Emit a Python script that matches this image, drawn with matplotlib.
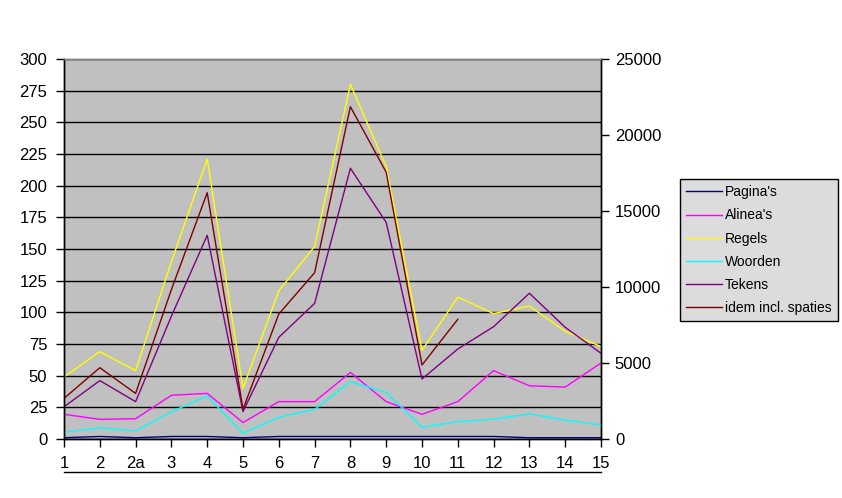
import matplotlib
matplotlib.use("Agg")
from matplotlib import pyplot as plt
import numpy as np

plt.rcParams["font.family"] = ["Liberation Sans", "DejaVu Sans"]

categories = ["1", "2", "2a", "3", "4", "5", "6", "7", "8", "9", "10", "11", "12", "13", "14", "15"]

# left axis series
paginas = [1, 2, 1, 2, 2, 1, 2, 2, 2, 2, 2, 2, 2, 1, 1, 1]
alineas = [19.5, 15.5, 16, 34.5, 36, 13, 29.5, 29.5, 52.5, 29.5, 19.5, 29.5, 54, 42, 41, 60]
regels = [49, 69, 54, 140, 221, 40, 117, 152, 280, 215, 70, 112, 99, 105, 85, 73]

# right axis series
woorden = [440, 745, 525, 1800, 2830, 375, 1430, 1950, 3770, 3070, 770, 1140, 1300, 1650, 1250, 920]
tekens = [2120, 3840, 2460, 8080, 13400, 1800, 6690, 8920, 17810, 14250, 3950, 5920, 7390, 9590, 7350, 5640]
incl_spaties = [2670, 4690, 3000, 9830, 16200, 1960, 8220, 10940, 21860, 17550, 4870, 7875,
                np.nan, np.nan, np.nan, np.nan]

x = np.arange(len(categories))

fig = plt.figure(figsize=(8.42, 4.98), dpi=100, facecolor="white")
ax = fig.add_axes([64 / 842, 59 / 498, 537 / 842, 380 / 498])
ax2 = ax.twinx()

ax.set_facecolor("#c0c0c0")
ax.set_zorder(0)
ax2.set_zorder(1)
ax2.patch.set_visible(False)

lw = 1.0
l1, = ax.plot(x, paginas, color="#000080", lw=lw, label="Pagina's")
l2, = ax.plot(x, alineas, color="#ff00ff", lw=lw, label="Alinea's")
l3, = ax.plot(x, regels, color="#ffff00", lw=lw, label="Regels")
l4, = ax2.plot(x, woorden, color="#00ffff", lw=lw, label="Woorden")
l5, = ax2.plot(x, tekens, color="#800080", lw=lw, label="Tekens")
l6, = ax2.plot(x, incl_spaties, color="#800000", lw=lw, label="idem incl. spaties")

ax.set_xlim(0, len(categories) - 1)
ax.set_ylim(0, 300)
ax2.set_ylim(0, 25000)
ax.set_yticks(np.arange(0, 301, 25))
ax2.set_yticks(np.arange(0, 25001, 5000))
ax.set_xticks(x)
ax.set_xticklabels(categories)

ax.yaxis.grid(True, color="black", lw=1)
ax.set_axisbelow(True)

for a in (ax, ax2):
    for s in a.spines.values():
        s.set_color("black")
        s.set_linewidth(1)
    a.spines["top"].set_color("#808080")

ax.tick_params(axis="y", direction="out", length=6, width=1, labelsize=12, pad=6)
ax.tick_params(axis="x", direction="out", length=6, width=1, labelsize=12, pad=6)
ax2.tick_params(axis="y", direction="out", length=6, width=1, labelsize=12, pad=4)

# line under the category labels
ax.plot([0, 1], [-0.087, -0.087], transform=ax.transAxes, color="black", lw=1, clip_on=False)

leg = fig.legend(handles=[l1, l2, l3, l4, l5, l6], loc="upper left",
                 bbox_to_anchor=(680 / 842, (498 - 179) / 498), borderaxespad=0,
                 fontsize=10, frameon=True, fancybox=False, framealpha=1,
                 edgecolor="black", facecolor="#dcdcdc", handlelength=2.6,
                 handletextpad=0.2, labelspacing=0.66, borderpad=0.45)
leg.get_frame().set_linewidth(1)

fig.savefig("out.png", dpi=100)
